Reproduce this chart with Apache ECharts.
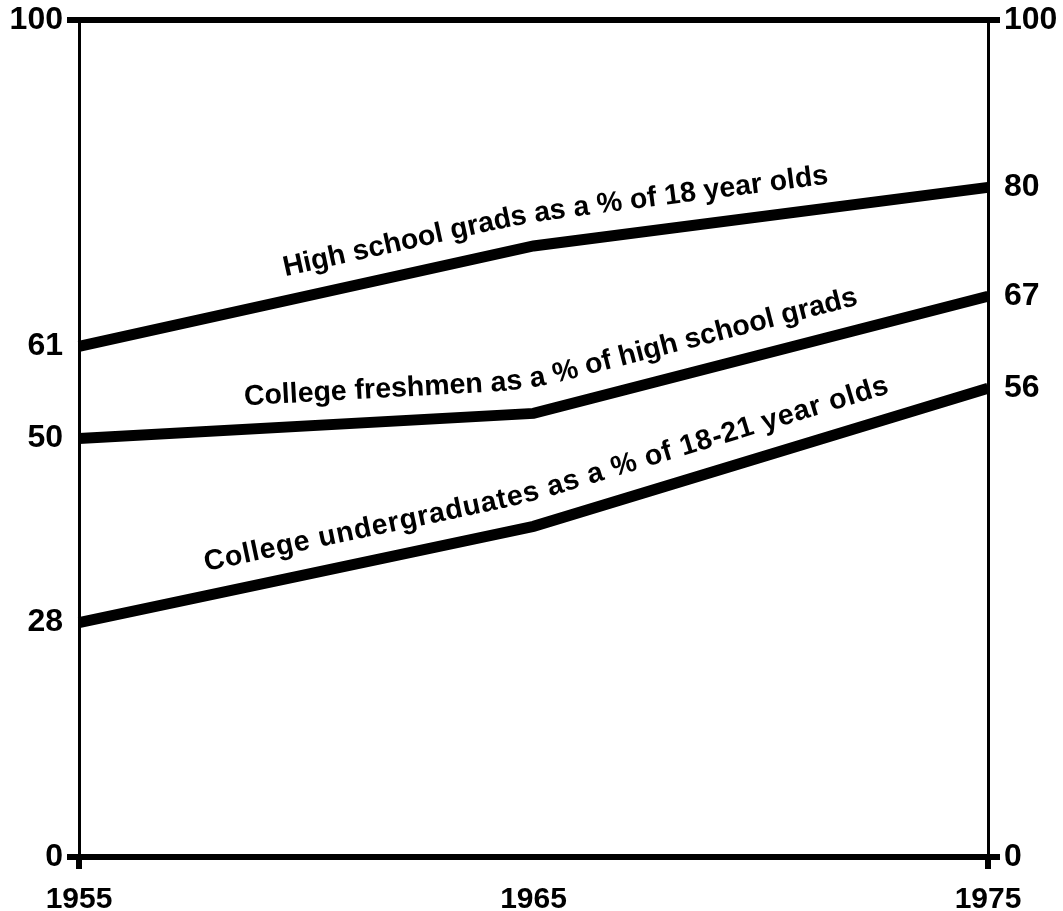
<!DOCTYPE html>
<html>
<head>
<meta charset="utf-8">
<script src="https://cdn.jsdelivr.net/npm/echarts@6/dist/echarts.min.js"></script>
<style>
  html, body { margin: 0; padding: 0; background: #fff; }
  #chart { width: 1063px; height: 911px; }
</style>
</head>
<body>
<div id="chart"></div>
<script>
// years on the x axis
const years = [1955, 1965, 1975]
// percentages
const highSchool = [61, 73, 80]
const freshmen = [50, 53, 67]
const undergrads = [28, 39.5, 56]
// tick labels on each side
const leftLabels = [0, 28, 50, 61, 100]
const rightLabels = [0, 56, 67, 80, 100]
const edgeTicks = [0, 100]
const yearTicks = [1955, 1975]
// captions that run along each line, starting at a given year
const captions = [
  { text: 'High school grads as a % of 18 year olds', values: highSchool, from: 1959.5, spacing: 0 },
  { text: 'College freshmen as a % of high school grads', values: freshmen, from: 1958.63, spacing: 0 },
  { text: 'College undergraduates as a % of 18-21 year olds', values: undergrads, from: 1957.75, spacing: 0.75 }
]

const font = '"Liberation Sans", Arial, Helvetica, sans-serif'
const captionFont = 'bold 28.5px ' + font
const toPairs = (vals) => years.map((y, i) => [y, vals[i]])

const chart = echarts.init(document.getElementById('chart'), null, { renderer: 'canvas' })

const lineSeries = (name, vals) => ({
  name: name,
  type: 'line',
  data: toPairs(vals),
  symbol: 'none',
  lineStyle: { color: '#000', width: 11, cap: 'butt', join: 'miter' },
  z: 3
})

const yAxisBase = {
  type: 'value',
  min: 0,
  max: 100,
  splitLine: { show: false },
  axisLine: { show: true, lineStyle: { color: '#000', width: 3 } },
  axisTick: { show: true, length: 12, customValues: edgeTicks, lineStyle: { color: '#000', width: 6 } }
}

const labelStyle = { color: '#000', fontFamily: font, fontWeight: 'bold', fontSize: 32, margin: 16 }

chart.setOption({
  animation: false,
  backgroundColor: '#fff',
  grid: { left: 79, right: 75, top: 20, bottom: 54, containLabel: false, outerBoundsMode: 'none' },
  xAxis: [
    {
      type: 'value',
      min: 1955,
      max: 1975,
      interval: 10,
      position: 'bottom',
      splitLine: { show: false },
      axisLine: { show: true, onZero: false, lineStyle: { color: '#000', width: 6 } },
      axisTick: { show: true, length: 12, customValues: yearTicks, lineStyle: { color: '#000', width: 6 } },
      axisLabel: Object.assign({}, labelStyle, { fontSize: 30, margin: 28, formatter: (v) => String(v) })
    },
    {
      type: 'value',
      min: 1955,
      max: 1975,
      position: 'top',
      splitLine: { show: false },
      axisLine: { show: true, onZero: false, lineStyle: { color: '#000', width: 6 } },
      axisTick: { show: false },
      axisLabel: { show: false }
    }
  ],
  yAxis: [
    Object.assign({}, yAxisBase, {
      position: 'left',
      axisLabel: Object.assign({}, labelStyle, { customValues: leftLabels })
    }),
    Object.assign({}, yAxisBase, {
      position: 'right',
      axisLabel: Object.assign({}, labelStyle, { customValues: rightLabels })
    })
  ],
  series: [
    lineSeries('High school grads', highSchool),
    lineSeries('College freshmen', freshmen),
    lineSeries('College undergraduates', undergrads)
  ]
})

// lay each caption out letter by letter so it bends with its line
const measure = document.createElement('canvas').getContext('2d')
measure.font = captionFont
const OFFSET = 32 // distance of letter centres above the line centre
const SMOOTH = 30 // half window used to round the bend

// the line pushed up by OFFSET, with a mitred corner at each bend
function pathOf(vals) {
  const pts = toPairs(vals).map((d) => chart.convertToPixel({ gridIndex: 0 }, d))
  const normals = []
  for (let i = 1; i < pts.length; i++) {
    const dx = pts[i][0] - pts[i - 1][0]
    const dy = pts[i][1] - pts[i - 1][1]
    const l = Math.hypot(dx, dy)
    normals.push([dy / l, -dx / l])
  }
  const off = pts.map((p, i) => {
    const n1 = normals[Math.max(0, i - 1)]
    const n2 = normals[Math.min(normals.length - 1, i)]
    const k = OFFSET / (1 + n1[0] * n2[0] + n1[1] * n2[1])
    return [p[0] + (n1[0] + n2[0]) * k, p[1] + (n1[1] + n2[1]) * k]
  })
  const acc = [0]
  for (let i = 1; i < off.length; i++) {
    acc.push(acc[i - 1] + Math.hypot(off[i][0] - off[i - 1][0], off[i][1] - off[i - 1][1]))
  }
  return { pts: off, acc }
}

function pointAt(path, s) {
  const { pts, acc } = path
  let i = 1
  while (i < pts.length - 1 && s > acc[i]) i++
  const a = pts[i - 1]
  const b = pts[i]
  const t = (s - acc[i - 1]) / (acc[i] - acc[i - 1])
  return [a[0] + (b[0] - a[0]) * t, a[1] + (b[1] - a[1]) * t]
}

function lengthAtX(path, x) {
  const { pts, acc } = path
  let i = 1
  while (i < pts.length - 1 && x > pts[i][0]) i++
  const a = pts[i - 1]
  const b = pts[i]
  const t = (x - a[0]) / (b[0] - a[0])
  return acc[i - 1] + (acc[i] - acc[i - 1]) * t
}

const graphics = []
captions.forEach((c) => {
  const path = pathOf(c.values)
  const startX = chart.convertToPixel({ gridIndex: 0 }, [c.from, 0])[0]
  let s = lengthAtX(path, startX)
  for (const ch of c.text) {
    const w = measure.measureText(ch).width + c.spacing
    const mid = s + w / 2
    const pa = pointAt(path, mid - SMOOTH)
    const pb = pointAt(path, mid + SMOOTH)
    const dx = pb[0] - pa[0]
    const dy = pb[1] - pa[1]
    const p = pointAt(path, mid)
    if (ch !== ' ') {
      graphics.push({
        type: 'text',
        x: (p[0] + (pa[0] + pb[0]) / 2) / 2,
        y: (p[1] + (pa[1] + pb[1]) / 2) / 2,
        rotation: Math.atan2(-dy, dx),
        style: {
          text: ch,
          fill: '#000',
          font: captionFont,
          textAlign: 'center',
          textVerticalAlign: 'middle'
        },
        z: 10
      })
    }
    s += w
  }
})
chart.setOption({ graphic: graphics })
</script>
</body>
</html>
